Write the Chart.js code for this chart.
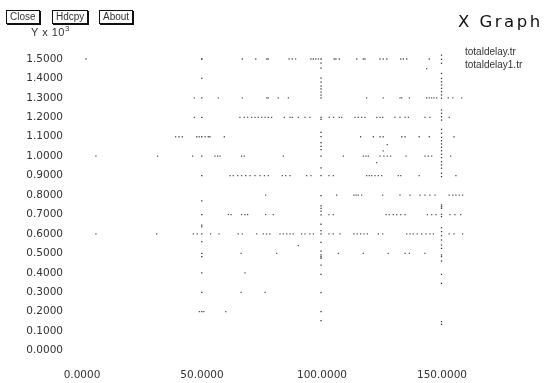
<!DOCTYPE html>
<html>
<head>
<meta charset="utf-8">
<script src="https://cdn.jsdelivr.net/npm/chart.js@4.4.0/dist/chart.umd.min.js"></script>
<style>
  body { margin: 0; background: #fff; }
  #marco { position: relative; width: 548px; height: 383px; overflow: hidden; font-family: "Liberation Sans", Arial, sans-serif; color: #222; }
  #grafica { position: absolute; left: 0; top: 0; }
  .boton { position: absolute; top: 10px; height: 12px; border: 1px solid #111; box-shadow: 1px 1px 0 #111; font-size: 10px; line-height: 12px; padding: 0 3px; color: #333; background: #fff; }
  #ytitulo { position: absolute; left: 31px; top: 24px; font-size: 11px; color: #333; letter-spacing: 0.5px; }
  #ytitulo sup { font-size: 8px; }
  #titulo { position: absolute; left: 458px; top: 12px; font-family: "DejaVu Sans", sans-serif; font-size: 16.5px; letter-spacing: 2.5px; color: #111; }
  .leyenda { position: absolute; left: 465px; font-size: 10px; color: #333; }
</style>
</head>
<body>
<div id="marco">
  <canvas id="grafica" width="548" height="383"></canvas>
  <div class="boton" style="left:6px">Close</div>
  <div class="boton" style="left:52px">Hdcpy</div>
  <div class="boton" style="left:99px">About</div>
  <div id="ytitulo">Y x 10<sup>3</sup></div>
  <div id="titulo">X Graph</div>
  <div class="leyenda" style="top:46px">totaldelay.tr</div>
  <div class="leyenda" style="top:59px">totaldelay1.tr</div>
</div>
<script>
// datos (y en unidades x10^3)
const nombresSeries = ['totaldelay.tr', 'totaldelay1.tr'];
const xTicks = [0, 50, 100, 150];
const yTicks = [0, 0.1, 0.2, 0.3, 0.4, 0.5, 0.6, 0.7, 0.8, 0.9, 1.0, 1.1, 1.2, 1.3, 1.4, 1.5];

// filas horizontales de puntos: nivel de retardo y tiempos
const nivelesFila = [1.5, 1.3, 1.2, 1.1, 1.0, 0.9, 0.8, 0.7, 0.6, 0.5, 0.4, 0.3, 0.2];
const tiemposFila = [
  [1.7, 49.9, 66.8, 72.4, 77, 77.6, 86.3, 87.6, 89, 95.4, 96.4, 97.4, 98.5, 105.1, 105.8, 107.2, 114.5, 117.2, 117.9, 124.2, 125.5, 127, 132.8, 133.9, 135.3, 144.7],
  [46.8, 56.8, 66.8, 77, 77.6, 81.8, 86, 118.6, 125.5, 132.5, 133.2, 136.4, 143.6, 144.7, 145.7, 146.7, 147.8, 152.6, 154.5, 158.2],
  [46.8, 65.8, 67.6, 69, 70.7, 72.1, 73.5, 74.9, 76.3, 77.6, 79, 84.3, 86.7, 87.6, 90.1, 92.9, 95, 103, 104.8, 107.2, 108.2, 113.8, 115.1, 116.5, 117.9, 122.8, 124.2, 125.3, 130.4, 132.5, 134.6, 136, 142.9, 145, 153],
  [39, 40.4, 41.8, 47.8, 48.8, 51.3, 52.6, 53.3, 59.3, 116.1, 121.4, 124.2, 125.5, 133.2, 134.6, 140.5, 144.7, 155],
  [5.8, 31.5, 46.1, 55.4, 56.5, 57.5, 66.5, 67.6, 83.9, 108.9, 117.2, 118.3, 119.3, 124.2, 125.8, 127.2, 128.6, 135, 142.9, 144.3, 145.7, 153.6],
  [61.7, 63, 64.9, 66.5, 68.2, 70, 72.1, 74.2, 76, 77.6, 83.5, 84.9, 86.7, 93.6, 95.4, 102.9, 104.7, 118.6, 119.7, 120.7, 122.1, 123.5, 124.9, 131.8, 132.8, 140.5, 155.8],
  [76.5, 106.1, 113.3, 114.2, 115.1, 116.5, 125.3, 132.5, 136.7, 140.8, 142.9, 145, 147.1, 153, 154.5, 155.8, 157.2, 158.6],
  [61, 62.1, 66.5, 67.9, 69, 76.5, 79.7, 102.9, 104.7, 126.7, 128, 129.7, 131.1, 132.8, 134.6, 143.9, 145.7, 147.5, 153.3, 155.4, 157.8],
  [5.8, 31.1, 46.4, 48, 53.6, 57.1, 65.1, 66.8, 72.8, 75.5, 76.9, 78.3, 82.5, 83.9, 85.3, 86.7, 88, 91.5, 92.9, 95, 96.4, 102.9, 104.7, 107.5, 113.3, 114.7, 116.1, 117.5, 118.9, 123.5, 125.3, 135.3, 136.7, 138, 139.7, 141.5, 143.3, 145, 146.4, 153, 155, 158.6],
  [66.3, 81.1, 106.8, 117.2, 127.6, 134.6, 136.4, 142.9],
  [67.9],
  [66.3, 76.3],
  [48.9, 50.8, 59.9]
];

// puntos sueltos
const sueltosX = [143.6, 127.2, 125.5, 122.8, 90.1];
const sueltosY = [1.45, 1.06, 1.027, 0.967, 0.54];

// columnas verticales: tiempo y retardos
const tiemposColumna = [49.9, 99.6, 149.8];
const retardosColumna = [
  [1.5, 1.4, 1.3, 1.2, 1.1, 1.0, 0.9, 0.77, 0.7, 0.646, 0.636, 0.6, 0.56, 0.5, 0.483, 0.4, 0.3, 0.2],
  [1.5, 1.479, 1.453, 1.402, 1.381, 1.36, 1.346, 1.33, 1.314, 1.3, 1.2, 1.19, 1.122, 1.101, 1.07, 1.05, 1.034, 1.0, 0.94, 0.9, 0.797, 0.745, 0.732, 0.718, 0.698, 0.65, 0.617, 0.6, 0.557, 0.512, 0.492, 0.483, 0.475, 0.44, 0.392, 0.298, 0.2, 0.154],
  [1.53, 1.52, 1.498, 1.478, 1.426, 1.4, 1.383, 1.366, 1.349, 1.332, 1.315, 1.298, 1.238, 1.221, 1.203, 1.186, 1.138, 1.118, 1.097, 1.08, 1.063, 1.046, 1.028, 1.01, 0.993, 0.972, 0.955, 0.938, 0.912, 0.895, 0.749, 0.74, 0.732, 0.701, 0.689, 0.632, 0.612, 0.591, 0.569, 0.543, 0.526, 0.492, 0.483, 0.461, 0.392, 0.346, 0.149, 0.135]
];

let puntosFilas = [];
nivelesFila.map((nivel, i) => {
  tiemposFila[i].map((t) => puntosFilas.push({ x: t, y: nivel }));
});
sueltosX.map((t, i) => puntosFilas.push({ x: t, y: sueltosY[i] }));

let puntosColumnas = [];
tiemposColumna.map((t, i) => {
  retardosColumna[i].map((r) => puntosColumnas.push({ x: t, y: r }));
});

const fuenteTicks = { family: 'DejaVu Sans', size: 10.5 };

var ctx = document.getElementById('grafica');
var miGrafica = new Chart(ctx, {
  type: 'scatter',
  data: {
    datasets: [{
      label: nombresSeries[0],
      data: puntosFilas,
      pointStyle: 'rect',
      pointRadius: 0.9,
      borderWidth: 0,
      backgroundColor: '#555',
      clip: false
    }, {
      label: nombresSeries[1],
      data: puntosColumnas,
      pointStyle: 'rect',
      pointRadius: 0.9,
      borderWidth: 0,
      backgroundColor: '#333',
      clip: false
    }]
  },
  options: {
    responsive: false,
    devicePixelRatio: 1,
    animation: false,
    layout: { padding: { left: 0, right: 82, top: 59, bottom: 0 } },
    plugins: { legend: { display: false }, tooltip: { enabled: false } },
    scales: {
      x: {
        type: 'linear',
        min: 0,
        max: 160,
        grid: { display: false, drawTicks: false },
        border: { display: false },
        afterBuildTicks: (scale) => { scale.ticks = xTicks.map((v) => ({ value: v })); },
        afterFit: (scale) => { scale.height = 32.4; },
        ticks: {
          padding: 18,
          color: '#333',
          font: fuenteTicks,
          maxRotation: 0,
          callback: (v) => Number(v).toFixed(4)
        }
      },
      y: {
        type: 'linear',
        min: 0,
        max: 1.5,
        grid: { display: false, drawTicks: false },
        border: { display: false },
        afterBuildTicks: (scale) => { scale.ticks = yTicks.map((v) => ({ value: v })); },
        afterFit: (scale) => { scale.width = 82; },
        ticks: {
          padding: 19,
          color: '#333',
          font: fuenteTicks,
          callback: (v) => Number(v).toFixed(4)
        }
      }
    }
  }
});
</script>
</body>
</html>
